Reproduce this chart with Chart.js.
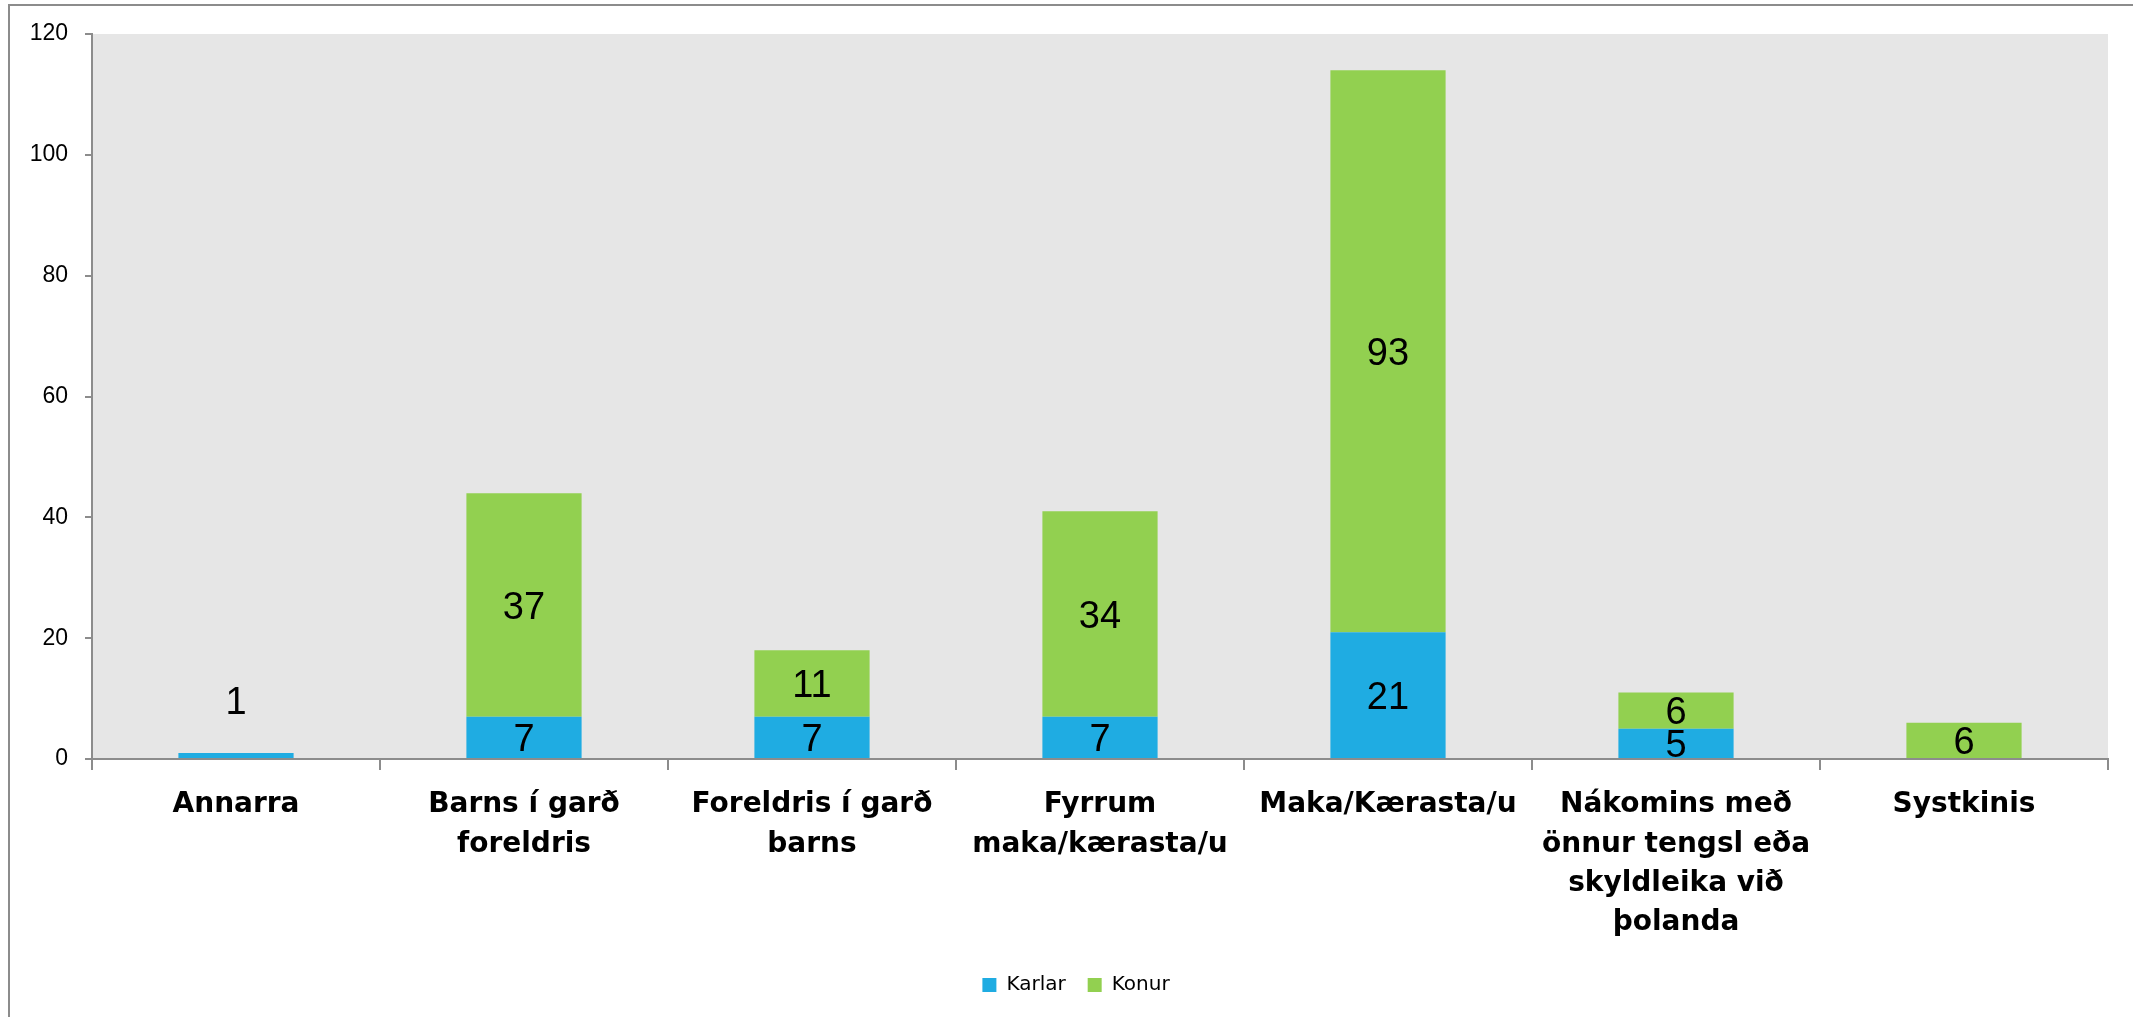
<!DOCTYPE html>
<html>
<head>
<meta charset="utf-8">
<script src="https://cdn.jsdelivr.net/npm/chart.js@4/dist/chart.umd.min.js"></script>
<style>
  html, body { margin: 0; padding: 0; background: #fff; overflow: hidden; }
  #frame { position: absolute; left: 8px; top: 4px; width: 3000px; height: 3000px;
           border-left: 2px solid #8c8c8c; border-top: 2px solid #8c8c8c; }
  #wrap { position: absolute; left: 0; top: 0; width: 2133px; height: 1017px; }
</style>
</head>
<body>
<div id="frame"></div>
<div id="wrap"><canvas id="c" width="2133" height="1017"></canvas></div>
<script>
const categories = [
  "Annarra",
  ["Barns í garð", "foreldris"],
  ["Foreldris í garð", "barns"],
  ["Fyrrum", "maka/kærasta/u"],
  "Maka/Kærasta/u",
  ["Nákomins með", "önnur tengsl eða", "skyldleika við", "þolanda"],
  "Systkinis"
];
const karlar = [1, 7, 7, 7, 21, 5, 0];
const konur  = [0, 37, 11, 34, 93, 6, 6];
const yTicks = [0, 20, 40, 60, 80, 100, 120];

const plotBg = {
  id: 'plotBg',
  beforeDraw(chart) {
    const {ctx, chartArea: a} = chart;
    ctx.save();
    ctx.fillStyle = '#E6E6E6';
    ctx.fillRect(a.left, a.top, a.right - a.left, a.bottom - a.top);
    ctx.restore();
  }
};

const legendShift = {
  id: 'legendShift',
  afterLayout(chart) {
    if (chart.legend) chart.legend.left += 44;
  }
};

const barLabels = {
  id: 'barLabels',
  afterDatasetsDraw(chart) {
    const ctx = chart.ctx;
    const fs = 38;
    ctx.save();
    ctx.font = fs + 'px "Liberation Sans"';
    ctx.fillStyle = '#000';
    ctx.textAlign = 'center';
    ctx.textBaseline = 'alphabetic';
    chart.data.datasets.forEach((ds, i) => {
      const meta = chart.getDatasetMeta(i);
      meta.data.forEach((bar, j) => {
        const v = ds.data[j];
        if (!v) return;
        const p = bar.getProps(['x', 'y', 'base'], true);
        const h = Math.abs(p.base - p.y);
        let cy = (p.y + p.base) / 2;
        if (h < 20) cy = p.y - 53;
        ctx.fillText(String(v), p.x, cy + fs * 0.716 / 2);
      });
    });
    ctx.restore();
  }
};

new Chart(document.getElementById('c'), {
  type: 'bar',
  data: {
    labels: categories,
    datasets: [
      { label: 'Karlar', data: karlar, backgroundColor: '#1FACE2', borderWidth: 0,
        barPercentage: 0.4, categoryPercentage: 1.0 },
      { label: 'Konur', data: konur, backgroundColor: '#92D050', borderWidth: 0,
        barPercentage: 0.4, categoryPercentage: 1.0 }
    ]
  },
  options: {
    responsive: false,
    animation: false,
    devicePixelRatio: 1,
    layout: { padding: { top: 34, right: 25, bottom: 12, left: 0 } },
    plugins: {
      legend: {
        position: 'bottom',
        labels: {
          boxWidth: 14, boxHeight: 14, padding: 22,
          color: '#000',
          font: { family: '"DejaVu Sans"', size: 20 }
        }
      },
      tooltip: { enabled: false }
    },
    scales: {
      x: {
        stacked: true,
        afterFit(scale) { scale.height = 194; },
        grid: { drawOnChartArea: false, drawTicks: true, tickLength: 11, color: '#8c8c8c', lineWidth: 2, offset: true },
        border: { display: true, color: '#8c8c8c', width: 2 },
        ticks: {
          color: '#000', padding: 15, maxRotation: 0, autoSkip: false,
          font: { family: '"DejaVu Sans"', size: 28, weight: 'bold', lineHeight: 1.41 }
        }
      },
      y: {
        stacked: true,
        min: 0, max: 120,
        afterFit(scale) { scale.width = 92; },
        afterBuildTicks(scale) { scale.ticks = yTicks.map(v => ({ value: v })); },
        grid: { drawOnChartArea: false, drawTicks: true, tickLength: 7, color: '#8c8c8c', lineWidth: 2 },
        border: { display: true, color: '#8c8c8c', width: 2 },
        ticks: {
          color: '#000', padding: 17,
          font: { family: '"Liberation Sans"', size: 23 }
        }
      }
    }
  },
  plugins: [plotBg, legendShift, barLabels]
});
</script>
</body>
</html>
